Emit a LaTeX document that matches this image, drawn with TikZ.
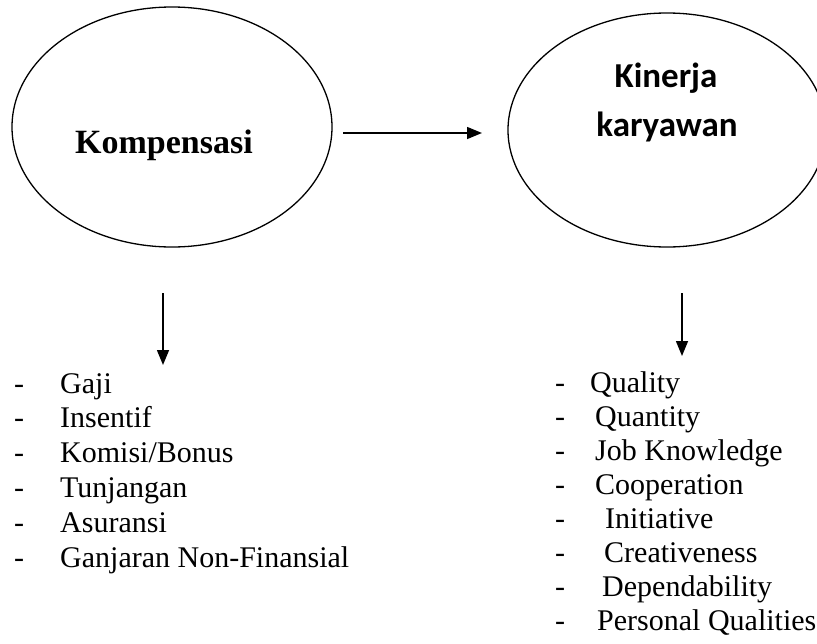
\documentclass[tikz,border=0pt]{standalone}
\usepackage{fontspec}
\setmainfont{Liberation Serif}
\newfontfamily\carlitofont{Carlito}
\usetikzlibrary{arrows.meta,shapes.geometric}
\begin{document}
\begin{tikzpicture}[x=1pt,y=-1pt,
  oval/.style={draw,line width=1.3pt,ellipse,inner sep=0pt},
  arr/.style={line width=1.5pt,-{Triangle[length=15pt,width=12pt]}},
  item/.style={anchor=base west,inner sep=0pt,font=\fontsize{30}{36}\selectfont},
  title/.style={anchor=base,inner sep=0pt}]
\useasboundingbox (0,0) rectangle (817,643);
% ellipses
\node[oval,minimum width=320pt,minimum height=240pt] (kom) at (172,127) {};
\node[oval,minimum width=318pt,minimum height=234pt] (kin) at (667,130) {};
\node[title,font=\bfseries\fontsize{34}{40}\selectfont] (komt) at (164,153) {Kompensasi};
\node[title,font=\carlitofont\bfseries\fontsize{35}{42}\selectfont] (kint1) at (666,87) {Kinerja};
\node[title,font=\carlitofont\bfseries\fontsize{35}{42}\selectfont] (kint2) at (667,136) {karyawan};
% arrows
\coordinate (h1) at (343,133);
\coordinate (h2) at (482,133);
\draw[arr] (h1) -- (h2);
\coordinate (l1) at (163,293);
\coordinate (l2) at (163,365);
\draw[arr] (l1) -- (l2);
\coordinate (r1) at (682,293);
\coordinate (r2) at (682,356);
\draw[arr] (r1) -- (r2);
% left list
\foreach \t [count=\i] in {Gaji,Insentif,Komisi/Bonus,Tunjangan,Asuransi,Ganjaran Non-Finansial}{
  \node[item] (ld\i) at (14,{393+34.8*(\i-1)}) {-};
  \node[item] (lt\i) at (60,{393+34.8*(\i-1)}) {\t};
}
% right list
\foreach \t/\xx [count=\i] in {Quality/590,Quantity/595,Job Knowledge/595,Cooperation/595,Initiative/605,Creativeness/604,Dependability/602,Personal Qualities/597}{
  \node[item] (rd\i) at (555,{392+34*(\i-1)}) {-};
  \node[item] (rt\i) at (\xx,{392+34*(\i-1)}) {\t};
}
\end{tikzpicture}
\end{document}
